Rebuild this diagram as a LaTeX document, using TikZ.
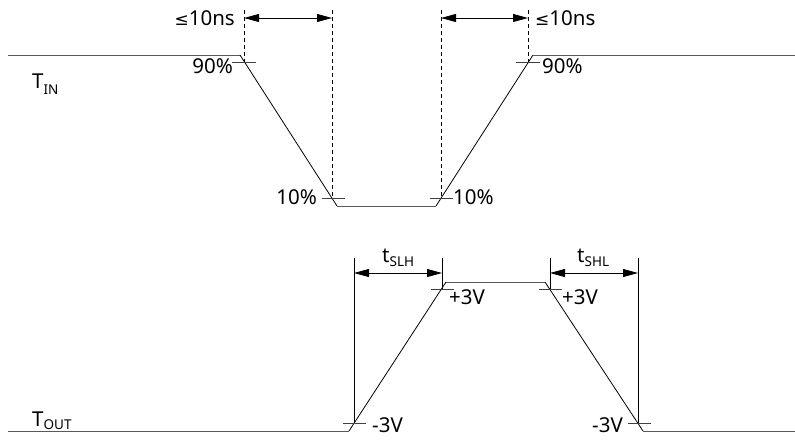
\documentclass[tikz,border=0pt]{standalone}
\usepackage{fontspec}
\setmainfont{Noto Sans}
\newfontfamily\symfont{DejaVu Sans}
\usetikzlibrary{arrows.meta}
\newcommand{\mysub}[2][5pt]{\raisebox{-#1}{\fontsize{13.5}{14}\selectfont #2}}
\newcommand{\lesym}{{\symfont\fontsize{17}{17}\selectfont ≤}}
\begin{document}
\begin{tikzpicture}[x=1pt,y=-1pt,
  lvl/.style={draw=black!65,line width=1pt},
  edge/.style={draw=black,line width=0.8pt},
  tick/.style={draw=black!75,line width=0.8pt},
  dsh/.style={draw=black,dashed,line width=0.8pt,dash pattern=on 4pt off 3pt},
  ref/.style={draw=black,line width=0.8pt},
  dim/.style={draw=black,line width=0.8pt,{Triangle[length=15pt,width=8pt]}-{Triangle[length=15pt,width=8pt]}},
  lbl/.style={font=\fontsize{20.5}{22}\selectfont,inner sep=0pt}]
\useasboundingbox (0,0) rectangle (795,439);
% input waveform
\coordinate (i0) at (8,55);
\coordinate (i1) at (240,55);
\coordinate (i2) at (337,206);
\coordinate (i3) at (436,206);
\coordinate (i4) at (533,55);
\coordinate (i5) at (795,55);
\path[lvl] (i0) -- (i1);
\path[edge] (i1) -- (i2);
\path[lvl] (i2) -- (i3);
\path[edge] (i3) -- (i4);
\path[lvl] (i4) -- (i5);
% ticks
\path[tick] (232,62) -- (256,62);
\path[tick] (516,62) -- (540,62);
\path[tick] (322,198) -- (345,198);
\path[tick] (430,198) -- (453,198);
% dashed
\coordinate (d1t) at (244,10); \coordinate (d1b) at (244,62);
\coordinate (d2t) at (332,10); \coordinate (d2b) at (332,198);
\coordinate (d3t) at (441,10); \coordinate (d3b) at (441,198);
\coordinate (d4t) at (528,10); \coordinate (d4b) at (528,62);
\path[dsh] (d1t) -- (d1b);
\path[dsh] (d2t) -- (d2b);
\path[dsh] (d3t) -- (d3b);
\path[dsh] (d4t) -- (d4b);
\coordinate (a1) at (244,18); \coordinate (a2) at (332,18);
\coordinate (a3) at (441,18); \coordinate (a4) at (528,18);
\path[dim] (a1) -- (a2);
\path[dim] (a3) -- (a4);
\node[lbl,anchor=base east] (l1) at (235,25) {\lesym 10ns};
\node[lbl,anchor=base west] (l2) at (535,25) {\lesym 10ns};
\node[lbl,anchor=base east] (p90a) at (233,73) {90\%};
\node[lbl,anchor=base west] (p90b) at (542,73) {90\%};
\node[lbl,anchor=base east] (p10a) at (317,204) {10\%};
\node[lbl,anchor=base west] (p10b) at (453,204) {10\%};
\node[lbl,anchor=base west] (tin) at (32,88) {T\mysub[6pt]{IN}};
% output waveform
\coordinate (o0) at (8,431);
\coordinate (o1) at (349,431);
\coordinate (o2) at (446,282);
\coordinate (o3) at (545,282);
\coordinate (o4) at (643,431);
\coordinate (o5) at (795,431);
\path[lvl] (o0) -- (o1);
\path[edge] (o1) -- (o2);
\path[lvl] (o2) -- (o3);
\path[edge] (o3) -- (o4);
\path[lvl] (o4) -- (o5);
\path[tick] (431,289) -- (454,289);
\path[tick] (539,289) -- (562,289);
\path[tick] (343,423) -- (366,423);
\path[tick] (628,423) -- (651,423);
\coordinate (r1t) at (354,258); \coordinate (r1b) at (354,423);
\coordinate (r2t) at (442,258); \coordinate (r2b) at (442,289);
\coordinate (r3t) at (550,258); \coordinate (r3b) at (550,289);
\coordinate (r4t) at (638,258); \coordinate (r4b) at (638,423);
\path[ref] (r1t) -- (r1b);
\path[ref] (r2t) -- (r2b);
\path[ref] (r3t) -- (r3b);
\path[ref] (r4t) -- (r4b);
\coordinate (b1) at (354,273); \coordinate (b2) at (442,273);
\coordinate (b3) at (550,273); \coordinate (b4) at (638,273);
\path[dim] (b1) -- (b2);
\path[dim] (b3) -- (b4);
\node[lbl,anchor=base west] (tslh) at (382,262) {t\mysub[4pt]{SLH}};
\node[lbl,anchor=base west] (tshl) at (577,262) {t\mysub[4pt]{SHL}};
\node[lbl,anchor=base west] (v1) at (449,304) {+3V};
\node[lbl,anchor=base west] (v2) at (562,304) {+3V};
\node[lbl,anchor=base west] (v3) at (372,432) {-3V};
\node[lbl,anchor=base east] (v4) at (623,432) {-3V};
\node[lbl,anchor=base west] (tout) at (32,426) {T\mysub[3pt]{OUT}};
\end{tikzpicture}
\end{document}
